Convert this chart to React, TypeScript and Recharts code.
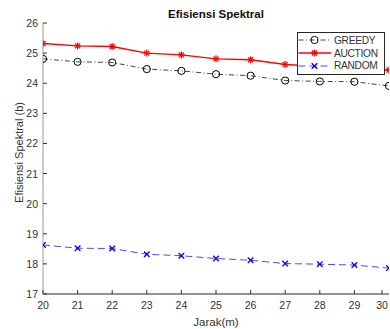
import { LineChart, Line, XAxis, YAxis, Legend, Label } from "recharts";

const jarak = [20, 21, 22, 23, 24, 25, 26, 27, 28, 29, 30];
const greedy = [24.81, 24.71, 24.69, 24.47, 24.41, 24.3, 24.25, 24.09, 24.06, 24.05, 23.91];
const auction = [25.32, 25.24, 25.22, 25.0, 24.94, 24.81, 24.78, 24.62, 24.56, 24.5, 24.44];
const random = [18.63, 18.52, 18.51, 18.32, 18.27, 18.18, 18.12, 18.01, 17.99, 17.96, 17.86];
const yTicks = [17, 18, 19, 20, 21, 22, 23, 24, 25, 26];

const data = jarak.map((x, i) => ({ x, greedy: greedy[i], auction: auction[i], random: random[i] }));

const FONT = "'Liberation Sans', Arial, Helvetica, sans-serif";
const TXT = "#333";

type Shape = "circle" | "star" | "cross";

function Marker({ cx, cy, shape, color }: { cx: number; cy: number; shape: Shape; color: string }) {
  if (shape === "circle") {
    return <circle cx={cx} cy={cy} r={3.6} fill="none" stroke={color} strokeWidth={1} />;
  }
  const r = 3.5;
  if (shape === "cross") {
    const s = 2.8;
    return (
      <g stroke={color} strokeWidth={1.3}>
        <line x1={cx - s} y1={cy - s} x2={cx + s} y2={cy + s} />
        <line x1={cx - s} y1={cy + s} x2={cx + s} y2={cy - s} />
      </g>
    );
  }
  const d = r * 0.72;
  return (
    <g stroke={color} strokeWidth={1.2}>
      <line x1={cx} y1={cy - r} x2={cx} y2={cy + r} />
      <line x1={cx - r} y1={cy} x2={cx + r} y2={cy} />
      <line x1={cx - d} y1={cy - d} x2={cx + d} y2={cy + d} />
      <line x1={cx - d} y1={cy + d} x2={cx + d} y2={cy - d} />
    </g>
  );
}

const series = [
  { key: "greedy", name: "GREEDY", color: "#444", marker: "#000", dash: "5 2.5 1 2.5", width: 1, shape: "circle" as Shape },
  { key: "auction", name: "AUCTION", color: "#ff0000", marker: "#ff0000", dash: undefined, width: 1.4, shape: "star" as Shape },
  { key: "random", name: "RANDOM", color: "#4a4aff", marker: "#0000ff", dash: "7 4", width: 1, shape: "cross" as Shape },
];

const BottomTick = (props: any) => {
  const { x, y, payload } = props;
  return (
    <g>
      <line x1={x} y1={y} x2={x} y2={y - 4} stroke={TXT} strokeWidth={1} />
      <text x={x} y={y + 15} textAnchor="middle" fontSize={10.5} fill={TXT} fontFamily={FONT}>
        {payload.value}
      </text>
    </g>
  );
};

const TopTick = (props: any) => {
  const { x, y } = props;
  return <line x1={x} y1={y} x2={x} y2={y + 4} stroke={TXT} strokeWidth={1} />;
};

const LeftTick = (props: any) => {
  const { x, y, payload } = props;
  return (
    <g>
      <line x1={x} y1={y} x2={x + 4} y2={y} stroke={TXT} strokeWidth={1} />
      <text x={x - 5} y={y + 4} textAnchor="end" fontSize={10.5} fill={TXT} fontFamily={FONT}>
        {payload.value}
      </text>
    </g>
  );
};

const RightTick = (props: any) => {
  const { x, y } = props;
  return <line x1={x} y1={y} x2={x - 4} y2={y} stroke={TXT} strokeWidth={1} />;
};

const LegendBox = () => (
  <div
    style={{
      border: "1px solid #262626",
      background: "#fff",
      padding: "1px 0 2px 0",
      fontFamily: FONT,
      fontSize: 10.2,
      letterSpacing: -0.3,
      color: TXT,
      width: 88,
      boxSizing: "border-box",
    }}
  >
    {series.map((s) => (
      <div key={s.key} style={{ display: "flex", alignItems: "center", height: 12.7 }}>
        <svg width={36} height={12} style={{ display: "block" }}>
          <line x1={0.5} y1={6} x2={33} y2={6} stroke={s.color} strokeWidth={s.width} strokeDasharray={s.dash} />
          <Marker cx={16.5} cy={6} shape={s.shape} color={s.marker} />
        </svg>
        <span>{s.name}</span>
      </div>
    ))}
  </div>
);

export default function App() {
  return (
    <div style={{ position: "relative", width: 390, height: 329, background: "#fff" }}>
      <style>{"body{margin:0}"}</style>
      <div
        style={{
          position: "absolute",
          left: 0,
          width: 432,
          top: 7,
          textAlign: "center",
          fontFamily: FONT,
          fontSize: 11.5,
          lineHeight: "14px",
          fontWeight: "bold",
          color: "#111",
        }}
      >
        Efisiensi Spektral
      </div>
      <LineChart width={390} height={329} data={data} margin={{ top: 23, right: 1, bottom: 0, left: 0 }}>
        <XAxis
          dataKey="x"
          type="number"
          domain={[20, 30]}
          ticks={jarak}
          height={35}
          tickSize={0}
          tickMargin={0}
          axisLine={{ stroke: "#262626" }}
          tick={<BottomTick />}
          allowDataOverflow
        >
          <Label value="Jarak(m)" position="insideBottom" offset={3} fontSize={11.5} fill={TXT} fontFamily={FONT} />
        </XAxis>
        <XAxis
          xAxisId="top"
          orientation="top"
          dataKey="x"
          type="number"
          domain={[20, 30]}
          ticks={jarak}
          height={0}
          tickSize={0}
          tickMargin={0}
          axisLine={{ stroke: "#262626" }}
          tick={<TopTick />}
          allowDataOverflow
        />
        <YAxis
          type="number"
          domain={[17, 26]}
          ticks={yTicks}
          width={43}
          tickSize={0}
          tickMargin={0}
          axisLine={{ stroke: "#bdbdbd", strokeWidth: 1.5 }}
          tick={<LeftTick />}
          allowDataOverflow
        >
          <Label
            content={(p: any) => {
              const vb = p.viewBox;
              const cx = vb.x + 23;
              const cy = vb.y + vb.height / 2 - 6;
              return (
                <text
                  x={cx}
                  y={cy}
                  transform={`rotate(-90 ${cx} ${cy})`}
                  textAnchor="middle"
                  fontSize={11}
                  fill={TXT}
                  fontFamily={FONT}
                >
                  Efisiensi Spektral (b)
                </text>
              );
            }}
          />
        </YAxis>
        <YAxis
          yAxisId="right"
          orientation="right"
          type="number"
          domain={[17, 26]}
          ticks={yTicks}
          width={0}
          tickSize={0}
          tickMargin={0}
          axisLine={{ stroke: "#bdbdbd", strokeWidth: 1.5 }}
          tick={<RightTick />}
          allowDataOverflow
        />
        <Legend
          layout="vertical"
          align="center"
          verticalAlign="middle"
          wrapperStyle={{ left: 297, top: 32, width: 88 }}
          content={() => <LegendBox />}
        />
        {series.map((s) => (
          <Line
            key={s.key}
            type="linear"
            dataKey={s.key}
            name={s.name}
            stroke={s.color}
            strokeWidth={s.width}
            strokeDasharray={s.dash}
            isAnimationActive={false}
            dot={(p: any) => <Marker key={`${s.key}-${p.index}`} cx={p.cx} cy={p.cy} shape={s.shape} color={s.marker} />}
            activeDot={false}
          />
        ))}
      </LineChart>
    </div>
  );
}
